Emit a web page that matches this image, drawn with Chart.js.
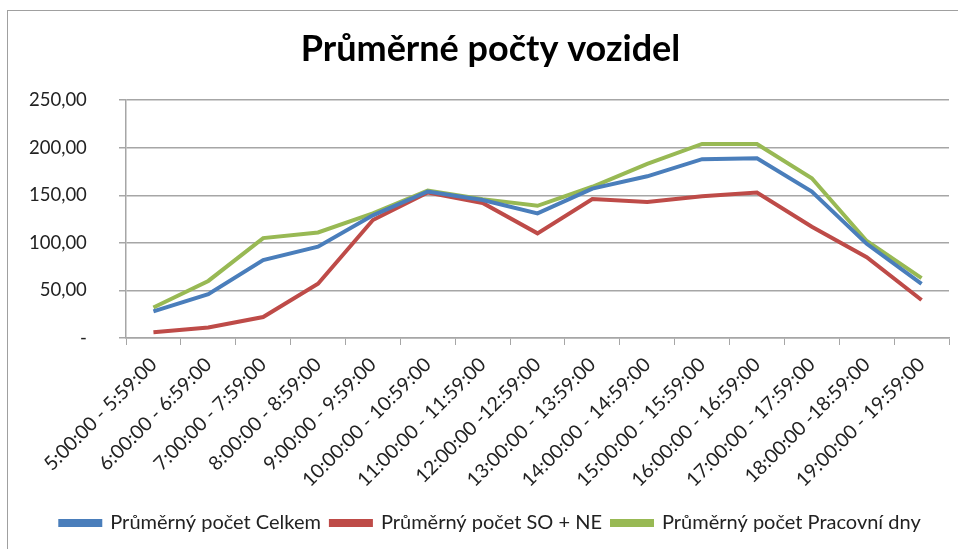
<!DOCTYPE html>
<html>
<head>
<meta charset="utf-8">
<script src="https://cdn.jsdelivr.net/npm/chart.js@4.4.0/dist/chart.umd.min.js"></script>
<style>
  body { margin: 0; background: #fff; }
  #wrap { position: relative; width: 958px; height: 549px; }
  #frame { position: absolute; left: 7px; top: 10px; width: 960px; height: 560px;
           border-left: 1.5px solid #a0a0a0; border-top: 1.5px solid #a0a0a0; }
  canvas { position: absolute; left: 0; top: 0; }
</style>
</head>
<body>
<div id="wrap">
  <div id="frame"></div>
  <canvas id="chartVozidla" width="958" height="549"></canvas>
</div>
<script>
// Průměrné počty vozidel po hodinách
const hours = ['5:00:00 - 5:59:00', '6:00:00 - 6:59:00', '7:00:00 - 7:59:00', '8:00:00 - 8:59:00',
  '9:00:00 - 9:59:00', '10:00:00 - 10:59:00', '11:00:00 - 11:59:00', '12:00:00 -12:59:00',
  '13:00:00 - 13:59:00', '14:00:00 - 14:59:00', '15:00:00 - 15:59:00', '16:00:00 - 16:59:00',
  '17:00:00 - 17:59:00', '18:00:00 -18:59:00', '19:00:00 - 19:59:00'];
const celkem = [28, 46, 82, 96, 129, 154, 145, 131, 157, 170, 188, 189, 154, 99, 57];
const soNe = [6, 11, 22, 57, 124, 153, 142, 110, 146, 143, 149, 153, 117, 85, 40];
const pracovni = [32, 60, 105, 111, 131, 155, 146, 139, 159, 183, 204, 204, 168, 102, 63];
const yTicks = [0, 50, 100, 150, 200, 250];

const font = "Lato, 'Liberation Sans', sans-serif";
const gridGrey = '#a6a6a6';

new Chart(document.getElementById('chartVozidla'), {
  type: 'line',
  data: {
    labels: hours,
    datasets: [{
      label: 'Průměrný počet Celkem',
      data: celkem,
      borderColor: '#4a7ebb',
      backgroundColor: '#4a7ebb'
    }, {
      label: 'Průměrný počet SO + NE',
      data: soNe,
      borderColor: '#be4b48',
      backgroundColor: '#be4b48'
    }, {
      label: 'Průměrný počet Pracovní dny',
      data: pracovni,
      borderColor: '#98b954',
      backgroundColor: '#98b954'
    }]
  },
  options: {
    responsive: false,
    animation: false,
    elements: {
      line: { borderWidth: 4, tension: 0 },
      point: { radius: 0 }
    },
    layout: { padding: { left: 32, right: 9, top: 0, bottom: 6 } },
    plugins: {
      title: {
        display: true,
        text: 'Průměrné počty vozidel',
        color: '#000',
        font: { family: font, size: 36, weight: 'bold' },
        padding: { top: 28, bottom: 29 }
      },
      legend: {
        position: 'bottom',
        labels: {
          boxWidth: 40,
          boxHeight: 4,
          padding: 10,
          color: '#222',
          font: { family: font, size: 20 }
        }
      },
      tooltip: { enabled: false }
    },
    scales: {
      x: {
        offset: true,
        grid: { offset: true, drawOnChartArea: false, drawTicks: true, tickLength: 7, color: gridGrey },
        border: { color: gridGrey, width: 1.5 },
        ticks: { color: '#222', font: { family: font, size: 19.5 }, minRotation: 45, maxRotation: 45, padding: 8 },
        afterFit: function(scale) { scale.height = 165; }
      },
      y: {
        min: 0,
        max: 250,
        afterBuildTicks: function(scale) { scale.ticks = yTicks.map(v => ({ value: v })); },
        grid: { color: gridGrey, lineWidth: 1.5, tickLength: 7 },
        border: { color: gridGrey, width: 1.5 },
        ticks: {
          color: '#222',
          mirror: true,
          crossAlign: 'far',
          padding: -97,
          font: { family: font, size: 18.5 },
          callback: function(v) { return v === 0 ? '-' : v.toFixed(2).replace('.', ','); }
        },
        afterFit: function(scale) { scale.width = 94; }
      }
    }
  }
});
</script>
</body>
</html>
